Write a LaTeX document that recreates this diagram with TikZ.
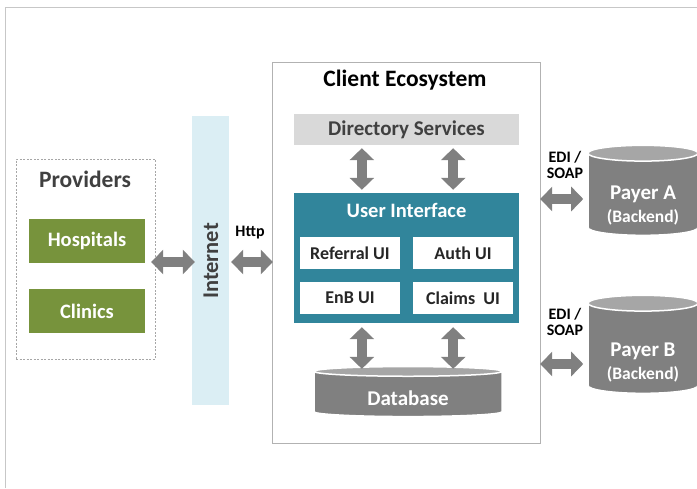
\documentclass[tikz,border=0pt]{standalone}
\usepackage{fontspec}
\setmainfont{Carlito}
\usetikzlibrary{positioning,calc,shapes.geometric,arrows.meta}
\definecolor{provgreen}{RGB}{119,147,60}
\definecolor{uiteal}{RGB}{49,133,155}
\definecolor{netblue}{RGB}{219,238,244}
\definecolor{dirgray}{RGB}{217,217,217}
\definecolor{arrowgray}{RGB}{128,128,128}
\definecolor{textgray}{RGB}{64,64,64}
\newcommand{\lift}[1]{\rule{0pt}{#1pt}}

\begin{document}
\begin{tikzpicture}[x=1pt,y=-1pt,font=\bfseries,
  fatarrow/.style={draw=arrowgray,line width=10pt,{Triangle[width=24pt,length=12pt]}-{Triangle[width=24pt,length=12pt]}},
  greenbox/.style={fill=provgreen,text=white,minimum width=116pt,minimum height=44pt,font=\bfseries\fontsize{20.5}{22}\selectfont},
  uibox/.style={fill=white,text=black!85,minimum width=100pt,minimum height=32pt,font=\bfseries\fontsize{18}{20}\selectfont},
  store/.style={cylinder,shape border rotate=90,aspect=0.2,draw=white,line width=1.5pt,
    cylinder uses custom fill,cylinder body fill=arrowgray,cylinder end fill=black!35,
    text=white,align=center,font=\bfseries\fontsize{21}{24}\selectfont},
  smalltxt/.style={align=center,font=\bfseries\fontsize{16}{16}\selectfont}]
\useasboundingbox (0,0) rectangle (697,488);
% outer frame
\draw [black!22,line width=1pt] (5,488) -- (5,7) -- (697,7);

% providers
\node [draw=black!35,dashed,dash pattern=on 2pt off 1.5pt,minimum width=139pt,minimum height=200pt] (prov) at (85.5,259) {};
\node [text=textgray,font=\bfseries\fontsize{23.5}{25}\selectfont] (provtitle) at (85,179) {Providers};
\node [greenbox] (hosp) at (87,241) {Hospitals};
\node [greenbox] (clin) at (87,311) {Clinics};

% internet
\node [fill=netblue,minimum width=37pt,minimum height=289pt] (inet) at (210.5,260.5) {};
\node [rotate=90,text=textgray,font=\bfseries\fontsize{22.5}{24}\selectfont] (inettxt) at (211,261) {Internet};

% client ecosystem
\node [draw=black!30,fill=white,minimum width=268pt,minimum height=381pt] (client) at (406,252.5) {};
\node [font=\bfseries\fontsize{23.5}{25}\selectfont] (clienttitle) at (405,80) {Client Ecosystem};
\node [fill=dirgray,text=textgray,minimum width=225pt,minimum height=31pt,font=\bfseries\fontsize{21}{23}\selectfont] (dir) at (406.5,129.5) {Directory Services};
\node [fill=uiteal,minimum width=225pt,minimum height=130pt] (ui) at (406.5,258) {};
\node [text=white,font=\bfseries\fontsize{20.5}{22}\selectfont] (uititle) at (406.5,210) {User Interface};
\node [uibox] (ref) at (350,253) {Referral UI};
\node [uibox] (auth) at (463,253) {Auth UI};
\node [uibox] (enb) at (350,298) {EnB UI};
\node [uibox] (claims) at (463,298) {Claims\ \ UI};
\node [store,aspect=0.11,minimum width=188pt,minimum height=50pt] (db) at (408,395) {\lift{21}Database};

% payers
\node [store,minimum width=110pt,minimum height=90pt] (paya) at (643,196) {\lift{32}Payer A\\[-1pt]{\fontsize{17.5}{19}\selectfont(Backend)}};
\node [store,minimum width=110pt,minimum height=98pt] (payb) at (643,350) {\lift{39}Payer B\\[-1pt]{\fontsize{17.5}{19}\selectfont(Backend)}};
\node [smalltxt] (edia) at (565,165) {EDI /\\SOAP};
\node [smalltxt] (edib) at (565,322) {EDI /\\SOAP};
\node [smalltxt] (http) at (250,233) {Http};

% arrows
\draw [fatarrow] ([xshift=-4pt,yshift=-3pt]prov.east) -- ([xshift=3pt,yshift=-3pt]prov.east -| inet.west);
\draw [fatarrow] ([xshift=2pt,yshift=-1.5pt]inet.east) -- ([xshift=1pt,yshift=-1.5pt]inet.east -| client.west);
\coordinate (dl) at ($(dir.south west)!0.302!(dir.south east)$);
\coordinate (dr) at ($(dir.south west)!0.707!(dir.south east)$);
\draw [fatarrow] ([yshift=-3pt]dl) -- ([yshift=3pt]dl |- ui.north);
\draw [fatarrow] ([yshift=-3pt]dr) -- ([yshift=3pt]dr |- ui.north);
\draw [fatarrow] ([yshift=-4pt]dl |- ui.south) -- ([yshift=-3pt]dl |- db.north);
\draw [fatarrow] ([yshift=-4pt]dr |- ui.south) -- ([yshift=-3pt]dr |- db.north);
\draw [fatarrow] ([yshift=-3pt]client.east |- paya.west) -- ([xshift=-4pt,yshift=-3pt]paya.west);
\draw [fatarrow] ([yshift=-14pt]client.east |- payb.west) -- ([xshift=-4pt,yshift=-14pt]payb.west);
\end{tikzpicture}
\end{document}
